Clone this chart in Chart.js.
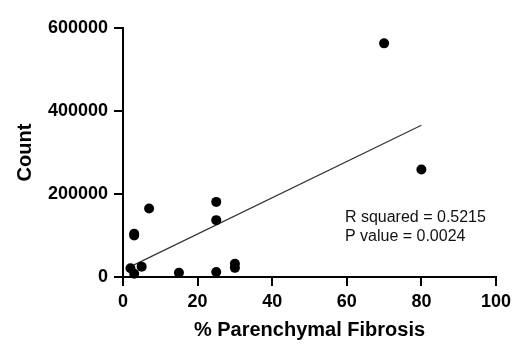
<!DOCTYPE html>
<html>
<head>
<meta charset="utf-8">
<script src="https://cdn.jsdelivr.net/npm/chart.js@4/dist/chart.umd.min.js"></script>
<style>
  html, body { margin: 0; padding: 0; background: #fff; }
  #wrap { width: 516px; height: 345px; }
</style>
</head>
<body>
<div id="wrap"><canvas id="chart" width="516" height="345"></canvas></div>
<script>
// 纤维化百分比 / 计数
const fibrosis = [2, 3, 3, 3, 5, 7, 15, 25, 25, 25, 30, 30, 70, 80];
const counts = [21000, 8000, 100000, 104000, 25000, 165000, 10000, 12000, 137000, 181000, 22000, 32000, 563000, 259000];
const xTicks = [0, 20, 40, 60, 80, 100];
const yTicks = [0, 200000, 400000, 600000];
const statLines = ['R squared = 0.5215', 'P value = 0.0024'];

const FONT = '"Liberation Sans", Arial, Helvetica, sans-serif';

//最小二乘拟合
function linearFit(xs, ys) {
  const n = xs.length;
  const mx = xs.reduce((a, b) => a + b, 0) / n;
  const my = ys.reduce((a, b) => a + b, 0) / n;
  let sxy = 0, sxx = 0;
  for (let i = 0; i < n; i++) {
    sxy += (xs[i] - mx) * (ys[i] - my);
    sxx += (xs[i] - mx) * (xs[i] - mx);
  }
  const slope = sxy / sxx;
  return { slope, intercept: my - slope * mx };
}

const fit = linearFit(fibrosis, counts);
const xMin = Math.min(...fibrosis);
const xMax = Math.max(...fibrosis);
const fitLine = [xMin, xMax].map(x => ({ x, y: fit.intercept + fit.slope * x }));
const points = fibrosis.map((x, i) => ({ x, y: counts[i] }));

//右下角统计文字
const statsPlugin = {
  id: 'stats',
  afterDatasetsDraw(chart) {
    const { ctx, scales } = chart;
    const x0 = scales.x.getPixelForValue(59.5);
    const y0 = scales.y.getPixelForValue(142000);
    ctx.save();
    ctx.fillStyle = '#111';
    ctx.font = '16px ' + FONT;
    ctx.textBaseline = 'middle';
    statLines.forEach((t, i) => ctx.fillText(t, x0, y0 + i * 18.5));
    ctx.restore();
  }
};

const axisCommon = {
  type: 'linear',
  border: { color: '#000', width: 2 },
  grid: { drawOnChartArea: false, drawTicks: true, tickLength: 9, color: '#000', lineWidth: 2 },
};

new Chart(document.getElementById('chart').getContext('2d'), {
  type: 'scatter',
  data: {
    datasets: [
      {
        type: 'line',
        data: fitLine,
        borderColor: '#333',
        borderWidth: 1.2,
        pointRadius: 0,
        fill: false,
        order: 2
      },
      {
        data: points,
        backgroundColor: '#000',
        borderColor: '#000',
        pointRadius: 5,
        borderWidth: 0,
        clip: false,
        order: 1
      }
    ]
  },
  plugins: [statsPlugin],
  options: {
    responsive: false,
    animation: false,
    layout: { padding: { top: 28, right: 20, bottom: 0, left: 0 } },
    plugins: { legend: { display: false }, tooltip: { enabled: false } },
    scales: {
      x: {
        ...axisCommon,
        min: 0,
        max: 100,
        afterBuildTicks: s => { s.ticks = xTicks.map(v => ({ value: v })); },
        afterFit: s => { s.height = 68; },
        ticks: { color: '#000', padding: 5, font: { family: FONT, size: 18, weight: 'bold' } },
        title: {
          display: true,
          text: '% Parenchymal Fibrosis',
          color: '#000',
          padding: { top: 0, bottom: 3 },
          font: { family: FONT, size: 20, weight: 'bold' }
        }
      },
      y: {
        ...axisCommon,
        min: 0,
        max: 600000,
        afterBuildTicks: s => { s.ticks = yTicks.map(v => ({ value: v })); },
        afterFit: s => { s.width = 123; },
        ticks: {
          color: '#000',
          padding: 6,
          font: { family: FONT, size: 18, weight: 'bold' },
          callback: v => String(v)
        },
        title: {
          display: true,
          text: 'Count',
          color: '#000',
          padding: { top: 13, bottom: 0 },
          font: { family: FONT, size: 20, weight: 'bold' }
        }
      }
    }
  }
});
</script>
</body>
</html>
